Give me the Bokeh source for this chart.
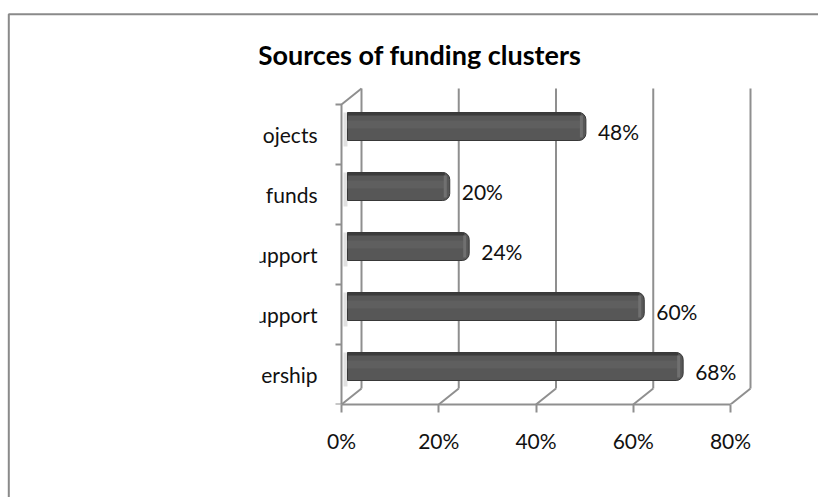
from bokeh.plotting import figure
from bokeh.models import FixedTicker, Range1d
from bokeh.core.properties import value
from bokeh.embed import file_html
from bokeh.resources import INLINE

# ---------------- data ----------------
TITLE = "Sources of funding clusters"
CATEGORIES = ["ership", "upport", "upport", "funds", "ojects"]   # bottom -> top
VALUES = [68, 60, 24, 20, 48]                                    # percent
TICKS = [0, 20, 40, 60, 80]
TICK_LABELS = ["0%", "20%", "40%", "60%", "80%"]

# ---------------- layout / style ----------------
W, H = 818, 497
X0_PX, FLOOR_PX = 341, 404                       # canvas px of 0% / floor
FRAME_L, FRAME_T = 259, 20
FRAME_B = H - FLOOR_PX
PX = (730 - 341) / 80.0                          # px per percent unit
PY = 60.0                                        # px per category band
frame_w = W - FRAME_L
frame_h = H - FRAME_T - FRAME_B
x_start = -(X0_PX - FRAME_L) / PX
x_end = x_start + frame_w / PX
y_end = frame_h / PY

DX, DY = 20 / PX, 16 / PY        # 3-D depth offset
BAR_START = 6 / PX
BAR_SHIFT = 11 / PX
BAR_RAISE = 8 / PY
BAR_H = 28 / PY
GRID_C = "#8f8f8f"
BAR_C = "#575757"
FONT = value("Lato")

p = figure(width=W, height=H, output_backend="svg", toolbar_location=None,
           title=None, y_axis_location=None,
           x_range=Range1d(x_start, x_end), y_range=Range1d(0, y_end),
           min_border_left=FRAME_L, min_border_right=0,
           min_border_top=FRAME_T, min_border_bottom=FRAME_B)
p.grid.visible = False
p.outline_line_color = None
p.background_fill_color = "white"
p.border_fill_color = "white"

n = len(CATEGORIES)

# outer chart border (top and left edges visible), drawn unclipped
bx = (8.3 - X0_PX) / PX
by = (FLOOR_PX - 13.8) / PY
p.line(x=[bx, bx, (W + 100 - X0_PX) / PX],
       y=[-(H + 100) / PY, by, by],
       line_color="#8a8a8a", line_width=2, level="overlay")

# back wall gridlines
p.segment(x0=[t + DX for t in TICKS], y0=[DY] * len(TICKS),
          x1=[t + DX for t in TICKS], y1=[n + DY] * len(TICKS),
          line_color=GRID_C, line_width=2)
# floor diagonals
p.segment(x0=TICKS, y0=[0] * len(TICKS),
          x1=[t + DX for t in TICKS], y1=[DY] * len(TICKS),
          line_color=GRID_C, line_width=2)
# side wall front edge + top edge
p.line(x=[0, 0, DX], y=[0, n, n + DY], line_color=GRID_C, line_width=2)
# category ticks on side wall
p.segment(x0=[-6 / PX] * (n + 1), y0=list(range(n + 1)),
          x1=[0] * (n + 1), y1=list(range(n + 1)),
          line_color=GRID_C, line_width=2)

ys = [i + 0.5 + BAR_RAISE for i in range(n)]
rights = [v + BAR_SHIFT for v in VALUES]

# soft shadow on side wall next to bar starts
p.quad(left=2 / PX, right=BAR_START, top=[y + BAR_H / 2 for y in ys],
       bottom=[y - BAR_H / 2 - 6 / PY for y in ys],
       fill_color="#d9d9d9", fill_alpha=0.8, line_color=None)

# bars
p.hbar(y=ys, left=BAR_START, right=rights, height=BAR_H,
       fill_color=BAR_C, line_color="#383838", line_width=1,
       border_radius=(0, 7, 7, 0))
# top face strip
p.hbar(y=[y + BAR_H / 2 - 1.5 / PY for y in ys], left=BAR_START,
       right=[r - 5 / PX for r in rights], height=3 / PY,
       fill_color="#3b3b3b", line_color=None)
# subtle lighter middle band
p.hbar(y=[y + 2 / PY for y in ys], left=BAR_START,
       right=[r - 5 / PX for r in rights], height=8 / PY,
       fill_color="#5f5f5f", line_color=None)
# end cap highlight
p.hbar(y=ys, left=[r - 6 / PX for r in rights], right=[r - 3 / PX for r in rights],
       height=BAR_H - 6 / PY, fill_color="#707070", line_color=None)

# category labels (clipped by the frame on the left)
p.text(x=[0] * n, y=[i + 0.5 for i in range(n)], text=CATEGORIES,
       x_offset=-24, text_align="right", text_baseline="middle",
       text_font=FONT, text_font_size=value("21px"), text_color="#111111")
# value labels
p.text(x=rights, y=[i + 0.5 + 3.5 / PY for i in range(n)],
       text=[f"{v}%" for v in VALUES], x_offset=12,
       text_align="left", text_baseline="middle",
       text_font=FONT, text_font_size=value("21px"), text_color="#111111")
# title
p.text(x=[(419 - X0_PX) / PX], y=[(FLOOR_PX - 54) / PY], text=[TITLE],
       text_align="center", text_baseline="middle",
       text_font=FONT, text_font_style="bold", text_font_size=value("27px"),
       text_color="#000000")

# x axis (front floor edge)
ax = p.xaxis[0]
ax.ticker = FixedTicker(ticks=TICKS)
ax.major_label_overrides = dict(zip(TICKS, TICK_LABELS))
ax.bounds = (TICKS[0], TICKS[-1])
ax.axis_line_color = GRID_C
ax.axis_line_width = 2
ax.major_tick_line_color = GRID_C
ax.major_tick_line_width = 2
ax.major_tick_out = 8
ax.major_tick_in = 0
ax.minor_tick_line_color = None
ax.major_label_standoff = 15
ax.major_label_text_font = "Lato"
ax.major_label_text_font_size = "21px"
ax.major_label_text_color = "#111111"

open("out.html", "w").write(file_html(p, INLINE))
